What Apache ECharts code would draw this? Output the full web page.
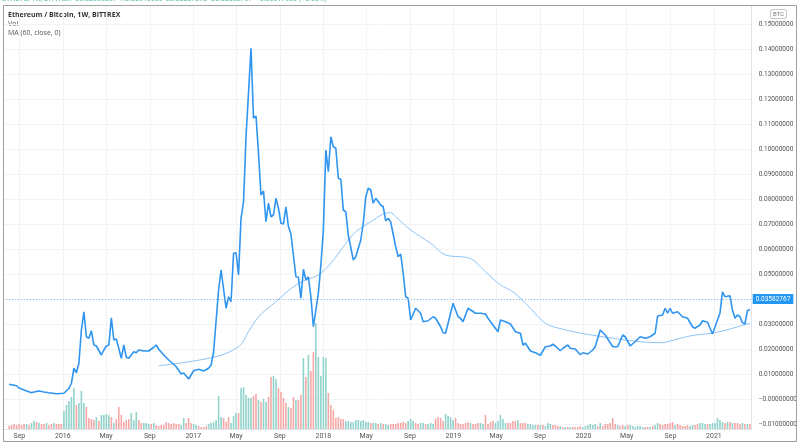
<!DOCTYPE html>
<html><head><meta charset="utf-8">
<script src="https://cdn.jsdelivr.net/npm/echarts@6/dist/echarts.min.js"></script>
<style>html,body{margin:0;padding:0;background:#fff}#c{width:800px;height:445px}</style>
</head><body><div id="c"></div>
<script>
// ---- data ----
const startDate = '2015-08-03';           // first weekly bar
const axisStart = '2015-07-17', axisEnd = '2021-04-17';
const xTickDates = ['2015-09-01','2016-01-01','2016-05-01','2016-09-01','2017-01-01','2017-05-01','2017-09-01','2018-01-01','2018-05-01','2018-09-01','2019-01-01','2019-05-01','2019-09-01','2020-01-01','2020-05-01','2020-09-01','2021-01-01'];
const monthNames = ['Jan','Feb','Mar','Apr','May','Jun','Jul','Aug','Sep','Oct','Nov','Dec'];
const yTicks = [-0.01,0,0.01,0.02,0.03,0.04,0.05,0.06,0.07,0.08,0.09,0.10,0.11,0.12,0.13,0.14,0.15];
const lastPrice = 0.03582767;

const priceWeek = [0,3,4,6,9,10,12,14,16,19,22,24,25,26,27,28,29,30,31,32,33,34,35,37,38,39,40,41,42,43,45,46,47,48,50,51,52,54,56,58,59,60,62,64,66,67,69,70,72,74,76,78,80,81,82,84,85,87,88,89,90,91,92,93,94,95,97,98,99,100,101,102,103,104,105,106,107,108,109,110,111,112,113,115,116,117,118,119,120,121,122,124,125,126,127,128,129,130,131,132,133,134,135,136,138,139,141,142,143,144,145,146,147,149,150,151,152,153,155,156,157,158,159,160,161,163,165,166,168,170,171,173,174,175,177,178,180,181,182,184,187,189,191,192,194,196,197,199,201,203,205,206,207,209,211,213,215,217,218,219,221,222,224,225,227,229,230,232,234,235,237,239,242,244,246,247,249,251,253,255,257,259,260,262,263,264,265,266,268,270,272,274,275,277,278,280,282,284,285,286,287,289,290,291,292,293,294,295,296,297];
const priceVal = [0.0059,0.0053,0.0044,0.0036,0.0025,0.0028,0.0032,0.0028,0.0025,0.0021,0.0023,0.0043,0.0063,0.0123,0.0105,0.0143,0.0276,0.0349,0.0249,0.0243,0.0273,0.0216,0.0212,0.0176,0.0196,0.0212,0.0216,0.0325,0.0236,0.024,0.0163,0.0216,0.0167,0.0163,0.0189,0.0185,0.0196,0.0192,0.0192,0.0207,0.0216,0.0199,0.0176,0.0156,0.0139,0.0129,0.01,0.0104,0.008,0.0113,0.0119,0.0112,0.0123,0.0136,0.0188,0.0436,0.0516,0.0363,0.0409,0.0389,0.0583,0.0585,0.0496,0.0723,0.0789,0.1049,0.1403,0.1123,0.1132,0.0983,0.0816,0.0832,0.0709,0.0783,0.0729,0.0736,0.0803,0.0763,0.0703,0.07,0.0769,0.0689,0.066,0.0489,0.0487,0.0403,0.0519,0.0476,0.0489,0.0409,0.0289,0.0423,0.0536,0.0676,0.0996,0.0909,0.1049,0.1009,0.1003,0.0883,0.0879,0.0756,0.0749,0.0656,0.0556,0.0569,0.0636,0.0703,0.0809,0.0843,0.0836,0.0783,0.0803,0.0776,0.0769,0.0713,0.0723,0.0708,0.0609,0.0569,0.058,0.0503,0.0409,0.0403,0.0316,0.0363,0.0343,0.0309,0.0313,0.0329,0.0323,0.0289,0.0265,0.0263,0.0343,0.0383,0.0329,0.0323,0.0309,0.0363,0.0343,0.0343,0.034,0.0323,0.0296,0.0269,0.0316,0.0309,0.03,0.0269,0.0263,0.0216,0.0223,0.0192,0.0185,0.0175,0.0209,0.0212,0.0219,0.0212,0.0193,0.0203,0.0216,0.0203,0.02,0.0177,0.0185,0.018,0.0196,0.0209,0.0276,0.0256,0.0209,0.0209,0.0256,0.0249,0.0212,0.0229,0.0249,0.0243,0.0249,0.0263,0.0332,0.0336,0.0363,0.0343,0.0363,0.0343,0.0349,0.0329,0.0323,0.0289,0.0283,0.0296,0.0313,0.0307,0.026,0.0316,0.0343,0.0429,0.0409,0.0413,0.0356,0.0323,0.0336,0.0329,0.0305,0.03,0.0353,0.03582767];

const maWeek = [60,82,92,96,100,107,114,119,124,129,134,139,145,150,153,155,161,169,175,183,186,191,197,202,209,215,222,231,242,253,261,269,275,282,289,297];
const maVal = [0.0133,0.0167,0.0209,0.0269,0.0329,0.0389,0.0449,0.0476,0.0496,0.0543,0.0609,0.0669,0.0709,0.074,0.0745,0.0729,0.0676,0.0623,0.0576,0.0567,0.0556,0.0509,0.0456,0.0429,0.0363,0.0303,0.0279,0.026,0.0243,0.0229,0.0225,0.0243,0.0256,0.0263,0.028,0.0303];

// weekly volume (relative units), one per week from startDate
const volume = [3,4,5,4,5,4,5,5,4,6, 8,7,6,5, 5,6,4,5,6,5,5,5, 18,24,28,32,41,24,26,38,26,22,
11,10,9,12,8,14,14,15,14,12,6,10,22,14,7,9,10,16,9,17,9,6,6,6,5,5,6,
4,3,4,4,7,6,5,6,5,5,4,11,6,11,6,5,4,3,2,2,3,5,6,7,9,33,12,11,7,12,6,13,16,16,
41,42,34,31,31,33,35,29,27,30,27,32, 52,53,50,41,37,31,26,22,21,32,29,29,34,
71,52,74,58,77,106,72,53,72,71,36,24,19,
11,12,10,10,8,8,7,7,9,9,8,9,7,7,6,6,6,5,6,5,5,4,5,5,5,6,
6,7,6,8,10,8,6,5,6, 6,5,5,6,5,10,12,11,8,15,13, 12,9,11,6,5,5,6,7,6,5,5, 6,6,5,14,5,7,8,6,8,14,10,
6,6,6,8,8,9,6,6,6,5,5, 4,4,4,4,4,3,6,5,4,4,3, 3,2,2,2,2,2,2,2,3,2,3, 4,5,4,5,3,6,3,5,5, 6,11,
5,4,3,4,3,4,4,3,2,3,3, 2,2,2,2,3,4,6,5,4,5,5, 6,7,4,5,4,3,3,4,3,4,4, 5,6,6,5,5,5,6,6,
11,9,7,6,7,7,6,6,6,5,6,5,5, 5];
// 1 = up week (teal), 0 = down week (red)
const volumeUp = [0,0,0,0,0,0,0,1,0,1, 1,0,1,0, 0,1,0,0,1,0,0,0, 1,1,1,1,1,0,1,1,1,0,
0,0,0,1,0,1,1,1,1,0,1,0,0,0,0,0,0,1,1,1,0,0,1,1,1,0,1,
0,0,0,0,0,0,0,0,0,0,1,1,0,0,0,1,1,0,0,0,0,1,1,1,1,1,1,0,0,0,1,1,1,0,
1,1,1,1,1,0,0,1,0,1,1,0, 0,1,1,0,0,0,0,1,0,0,1,0,0,
1,0,1,0,0,1,1,1,1,1,0,0,0,
0,0,0,0,1,1,1,1,1,1,1,1,1,1,0,1,1,0,1,0,1,1,0,0,0,0,
0,0,0,1,1,1,0,0,1, 1,0,1,1,1,0,0,0,0,1,1, 1,1,0,0,0,0,0,0,1,0,0, 0,1,1,0,0,0,0,1,1,1,1,
1,0,0,0,0,1,0,0,0,1,1, 1,1,0,1,0,1,1,1,0,0,0, 1,0,1,0,1,0,0,0,0,1,1, 1,1,1,1,0,1,0,0,0, 0,0,
0,1,0,0,1,0,1,1,1,1,1, 1,0,0,1,0,1,1,0,0,0,0, 0,0,1,0,0,0,0,0,1,1,0, 0,1,1,1,0,1,1,1,
1,1,1,0,1,0,1,0,0,0,1,0,1, 0];

// ---- build ----
const DAY = 86400000;
const ts = s => Date.parse(s + 'T00:00:00Z');
const t0 = ts(startDate);
const wk = i => t0 + i * 7 * DAY;
const priceData = priceWeek.map((w, i) => [wk(w), priceVal[i]]);
const maData = maWeek.map((w, i) => [wk(w), maVal[i]]);
const volData = volume.map((v, i) => ({
  value: [wk(i), v],
  itemStyle: { color: volumeUp[i] ? '#92d3cb' : '#f7a8a6' }
}));
const xTicks = xTickDates.map(ts);

const chart = echarts.init(document.getElementById('c'));
const FONT = 'Roboto';
const fmtY = v => (Math.abs(v) < 1e-9 ? '\u22120.00000000' : (v < 0 ? '\u2212' + Math.abs(v).toFixed(8) : v.toFixed(8)));
chart.setOption({
  animation: false,
  backgroundColor: '#fff',
  textStyle: { fontFamily: FONT },
  grid: { left: 3, right: 48, top: 6, bottom: 16, containLabel: false },
  xAxis: {
    type: 'value', min: ts(axisStart), max: ts(axisEnd),
    axisLine: { show: true, onZero: false, lineStyle: { color: '#e0e3eb', width: 1 } },
    axisTick: { show: false, customValues: xTicks },
    axisLabel: {
      customValues: xTicks, fontSize: 7, color: '#555', margin: 4, fontFamily: FONT,
      formatter: v => { const d = new Date(v); const m = d.getUTCMonth(); return m === 0 ? String(d.getUTCFullYear()) : monthNames[m]; }
    },
    splitLine: { show: true, lineStyle: { color: '#f1f3f7', width: 1 } }
  },
  yAxis: [{
    type: 'value', position: 'right', min: -0.012, max: 0.1572,
    axisLine: { show: true, lineStyle: { color: '#e0e3eb' } },
    axisTick: { show: false, customValues: yTicks },
    axisLabel: {
      customValues: yTicks, fontSize: 6.5, color: '#555', margin: 7, fontFamily: FONT,
      formatter: fmtY
    },
    splitLine: { show: true, lineStyle: { color: '#f1f3f7', width: 1 } }
  }, {
    type: 'value', min: 0, max: 423, show: false,
    splitLine: { show: false }
  }],
  series: [{
    type: 'bar', yAxisIndex: 1, data: volData, barWidth: 1.6, z: 1
  }, {
    type: 'line', data: maData, smooth: 0.35, showSymbol: false, z: 2,
    lineStyle: { color: '#8ec4f5', width: 1 }
  }, {
    type: 'line', data: priceData, showSymbol: false, z: 3,
    lineStyle: { color: '#2f95f0', width: 1.6 },
    markLine: {
      silent: true, symbol: ['none', 'none'],
      lineStyle: { color: '#8cc0f3', type: [1, 2], width: 1 },
      label: {
        position: 'end', distance: 1, formatter: () => lastPrice.toFixed(8),
        backgroundColor: '#2196f3', color: '#ffffff', fontSize: 6.5, padding: [2, 3, 1, 3], fontFamily: FONT, opacity: 1
      },
      emphasis: { disabled: true },
      data: [{ yAxis: lastPrice }]
    }
  }],
  graphic: [
    { type: 'rect', shape: { x: 3.5, y: 5.5, width: 793, height: 436 }, style: { fill: 'none', stroke: '#a0a0a0', lineWidth: 1 }, silent: true, z: 10 },
    { type: 'text', left: 2, top: -4, style: { text: 'ETHBTC, 1W, BITTREX  O0.03565087  H0.03616600  L0.03387272  C0.03582767  +0.00017680 (+0.50%)', fill: '#26a69a', font: '7px Roboto', opacity: 0.8 }, z: 9 },
    { type: 'text', left: 8, top: 11, style: { text: 'Ethereum / Bitcoin, 1W, BITTREX', fill: '#333', font: 'bold 7px "Open Sans"' } },
    { type: 'text', left: 8, top: 20, style: { text: 'Vol', fill: '#555', font: '7px "Open Sans"' } },
    { type: 'text', left: 8, top: 29, style: { text: 'MA (60, close, 0)', fill: '#555', font: '7px "Open Sans"' } },
    { type: 'text', left: 770, top: 9, style: { text: 'BTC', fill: '#777', font: '6px Roboto', borderColor: '#c8c8c8', borderWidth: 1, borderRadius: 2, padding: [1, 2], backgroundColor: '#fff' } }
  ]
});
</script></body></html>
